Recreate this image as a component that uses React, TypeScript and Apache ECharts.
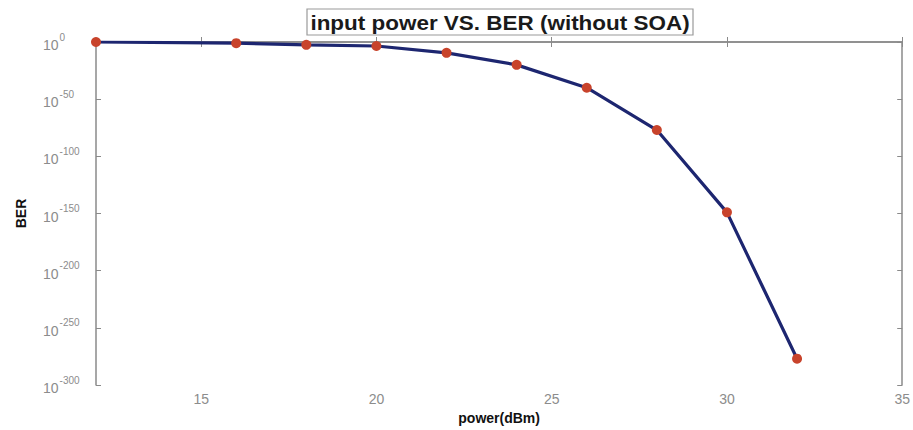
import React, { useEffect, useRef } from "react";
import * as echarts from "echarts";

const powerDbm = [12, 16, 18, 20, 22, 24, 26, 28, 30, 32];
const berExponent = [0, -1, -2.5, -3.5, -9.5, -20, -40, -77, -149, -277];
const xTicks = [15, 20, 25, 30, 35];
const yTickExponents = [0, -50, -100, -150, -200, -250, -300];

const titleText = "input power VS. BER (without SOA)";
const xName = "power(dBm)";
const yName = "BER";

const FONT = "'Liberation Sans', Arial, sans-serif";

export default function App() {
  const ref = useRef<HTMLDivElement>(null);
  useEffect(() => {
    if (!ref.current) return;
    const chart = echarts.init(ref.current, null, { renderer: "svg" });
    const data = powerDbm.map((p, i) => [p, berExponent[i]]);
    const axisLine = { show: true, lineStyle: { color: "#8a8a8a", width: 1.5 } };
    const tickStyle = { color: "#8a8a8a", width: 1 };
    chart.setOption({
      animation: false,
      backgroundColor: "#ffffff",
      grid: { left: 96, right: 8, top: 42, bottom: 40, containLabel: false },
      graphic: [
        {
          type: "rect",
          shape: { x: 307, y: 9, width: 386, height: 26 },
          style: { fill: "#ffffff", stroke: "#9a9a9a", lineWidth: 1.2 },
          z: 10,
        },
        {
          type: "text",
          x: 500,
          y: 23,
          scaleX: 1.07,
          style: {
            text: titleText,
            font: `bold 21px ${FONT}`,
            fill: "#1a1a1a",
            align: "center",
            verticalAlign: "middle",
          },
          z: 11,
        },
      ],
      xAxis: [
        {
          type: "value",
          min: 12,
          max: 35,
          name: xName,
          nameLocation: "middle",
          nameGap: 26,
          nameTextStyle: {
            fontFamily: FONT,
            fontWeight: "bold",
            fontSize: 14,
            color: "#111",
          },
          axisLine,
          axisTick: { show: true, inside: true, length: 5, lineStyle: tickStyle, customValues: xTicks },
          axisLabel: {
            customValues: xTicks,
            color: "#8c8c8c",
            fontSize: 14,
            margin: 7,
            fontFamily: FONT,
          },
          splitLine: { show: false },
        },
        {
          type: "value",
          position: "top",
          min: 12,
          max: 35,
          axisLine,
          axisTick: { show: true, inside: true, length: 5, lineStyle: tickStyle, customValues: xTicks },
          axisLabel: { show: false },
          splitLine: { show: false },
        },
      ],
      yAxis: [
        {
          type: "value",
          min: -300,
          max: 0,
          interval: 50,
          name: yName,
          nameLocation: "middle",
          nameRotate: 90,
          nameGap: 68,
          nameTextStyle: {
            fontFamily: FONT,
            fontWeight: "bold",
            fontSize: 14,
            color: "#111",
          },
          axisLine,
          axisTick: { show: true, inside: true, length: 5, lineStyle: tickStyle },
          axisLabel: {
            color: "#8c8c8c",
            margin: 53,
            align: "left",
            formatter: (v: number) =>
              yTickExponents.includes(v) ? `{b|10}{s|${v}}` : "",
            rich: {
              b: { fontSize: 14, color: "#8c8c8c", fontFamily: FONT, verticalAlign: "bottom" },
              s: {
                fontSize: 10,
                color: "#8c8c8c",
                fontFamily: FONT,
                verticalAlign: "top",
                padding: [0, 0, 10, 1],
              },
            },
          },
          splitLine: { show: false },
        },
        {
          type: "value",
          position: "right",
          min: -300,
          max: 0,
          interval: 50,
          axisLine,
          axisTick: { show: true, inside: true, length: 5, lineStyle: tickStyle },
          axisLabel: { show: false },
          splitLine: { show: false },
        },
      ],
      series: [
        {
          type: "line",
          data,
          xAxisIndex: 0,
          yAxisIndex: 0,
          symbol: "circle",
          symbolSize: 10,
          lineStyle: { color: "#1d2670", width: 3.2 },
          itemStyle: { color: "#c8432b", borderWidth: 0 },
          z: 3,
        },
      ],
    });
    return () => chart.dispose();
  }, []);
  return (
    <div
      ref={ref}
      style={{ position: "absolute", left: 0, top: 0, width: 913, height: 430 }}
    />
  );
}
